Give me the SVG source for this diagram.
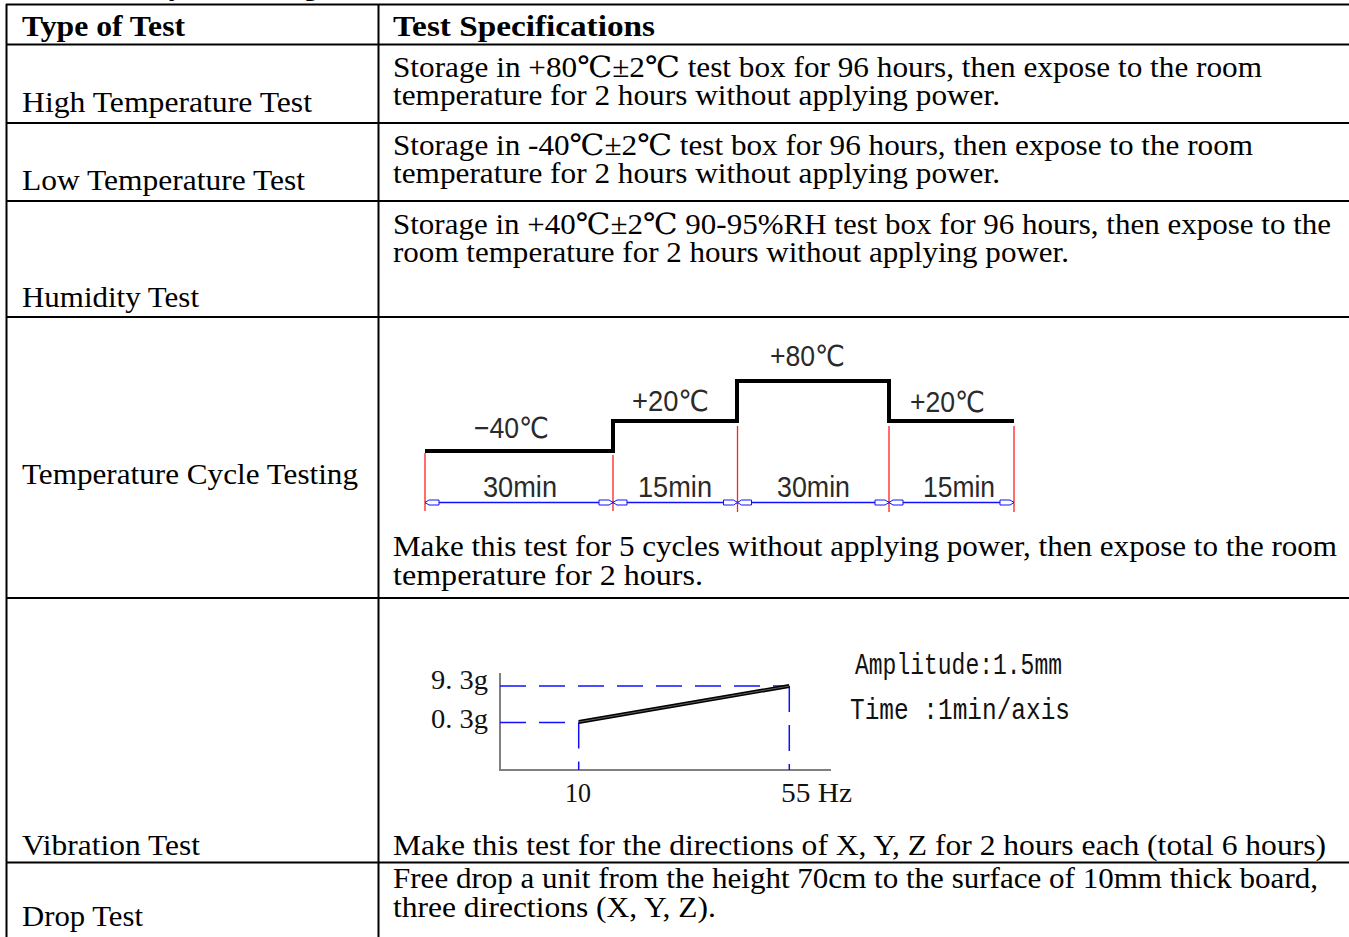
<svg xmlns="http://www.w3.org/2000/svg" width="1349" height="937" viewBox="0 0 1349 937">
<style>
.t{font-family:"Liberation Serif","DejaVu Serif","Noto Sans CJK SC",serif;font-size:29px;fill:#000}
.b{font-weight:bold}
.grid{stroke:#000;stroke-width:2;fill:none}
.lbl{font-family:"Liberation Sans","DejaVu Sans","Noto Sans CJK SC",sans-serif;font-size:29px;fill:#2a2a2a}
.sim{font-family:"Liberation Serif","Noto Sans CJK SC",serif;font-size:28px;fill:#111}
.mono{font-family:"Liberation Mono",monospace;font-size:30px;fill:#111}
.red{stroke:#ff2020;stroke-width:1.3}
.dim{stroke:#1010ff;stroke-width:1.5;marker-start:url(#da);marker-end:url(#da)}
.dash{stroke:#1010ff;stroke-width:1.5;stroke-dasharray:26 13;fill:none}
.axis{stroke:#808080;stroke-width:2;fill:none}
</style>
<defs>
<marker id="da" markerUnits="userSpaceOnUse" markerWidth="18" markerHeight="8" viewBox="-16 -4 18 8" refX="0" refY="0" orient="auto-start-reverse" overflow="visible">
<path d="M0,0 L-4,-2.5 L-14,-2.5 L-14,2.5 L-4,2.5 Z" fill="#fff" stroke="#1010ff" stroke-width="1"/>
</marker>
</defs>
<rect width="1349" height="937" fill="#fff"/>
<text class="t b" x="6" y="-5" font-size="39" textLength="312">Reliability Testing</text>
<g id="connectors">
<g id="table-grid" class="grid">
<line x1="6" y1="4.5" x2="1349" y2="4.5"/>
<line x1="6.5" y1="4" x2="6.5" y2="937"/>
<line x1="378.5" y1="4" x2="378.5" y2="937"/>
<line x1="6" y1="44.5" x2="1349" y2="44.5"/>
<line x1="6" y1="123" x2="1349" y2="123"/>
<line x1="6" y1="201" x2="1349" y2="201"/>
<line x1="6" y1="317" x2="1349" y2="317"/>
<line x1="6" y1="598" x2="1349" y2="598"/>
<line x1="6" y1="862.5" x2="1349" y2="862.5"/>
</g>
</g>
<g id="header">
<text class="t b" x="22" y="36" textLength="163" lengthAdjust="spacingAndGlyphs">Type of Test</text>
<text class="t b" x="393" y="36" textLength="262" lengthAdjust="spacingAndGlyphs">Test Specifications</text>
</g>
<g id="row-high-temp">
<text class="t" x="22" y="112" textLength="290" lengthAdjust="spacingAndGlyphs">High Temperature Test</text>
<text class="t"><tspan x="393" y="76.5" textLength="869" lengthAdjust="spacingAndGlyphs">Storage in +80℃±2℃ test box for 96 hours, then expose to the room</tspan><tspan x="393" y="104.5" textLength="607" lengthAdjust="spacingAndGlyphs">temperature for 2 hours without applying power.</tspan></text>
</g>
<g id="row-low-temp">
<text class="t" x="22" y="190" textLength="283" lengthAdjust="spacingAndGlyphs">Low Temperature Test</text>
<text class="t"><tspan x="393" y="154.5" textLength="860" lengthAdjust="spacingAndGlyphs">Storage in -40℃±2℃ test box for 96 hours, then expose to the room</tspan><tspan x="393" y="182.5" textLength="607" lengthAdjust="spacingAndGlyphs">temperature for 2 hours without applying power.</tspan></text>
</g>
<g id="row-humidity">
<text class="t" x="22" y="307" textLength="177" lengthAdjust="spacingAndGlyphs">Humidity Test</text>
<text class="t"><tspan x="393" y="234" textLength="938" lengthAdjust="spacingAndGlyphs">Storage in +40℃±2℃ 90-95%RH test box for 96 hours, then expose to the</tspan><tspan x="393" y="262" textLength="676" lengthAdjust="spacingAndGlyphs">room temperature for 2 hours without applying power.</tspan></text>
</g>
<g id="row-temp-cycle">
<text class="t" x="22" y="484" textLength="336" lengthAdjust="spacingAndGlyphs">Temperature Cycle Testing</text>
<g id="cycle-chart">
<polyline points="425,451 613,451 613,421 737,421 737,381 889,381 889,421 1014,421" fill="none" stroke="#000" stroke-width="4"/>
<line class="red" x1="425" y1="453" x2="425" y2="511"/>
<line class="red" x1="613" y1="455" x2="613" y2="511"/>
<line class="red" x1="737.5" y1="426" x2="737.5" y2="512"/>
<line class="red" x1="889" y1="426" x2="889" y2="512"/>
<line class="red" x1="1014" y1="426" x2="1014" y2="512"/>
<line class="dim" x1="425" y1="502.5" x2="613" y2="502.5"/>
<line class="dim" x1="613" y1="502.5" x2="737.5" y2="502.5"/>
<line class="dim" x1="737.5" y1="502.5" x2="889" y2="502.5"/>
<line class="dim" x1="889" y1="502.5" x2="1014" y2="502.5"/>
<text class="lbl" x="474" y="438" textLength="75" lengthAdjust="spacingAndGlyphs">−40℃</text>
<text class="lbl" x="632" y="411" textLength="77" lengthAdjust="spacingAndGlyphs">+20℃</text>
<text class="lbl" x="770" y="366" textLength="75" lengthAdjust="spacingAndGlyphs">+80℃</text>
<text class="lbl" x="910" y="412" textLength="75" lengthAdjust="spacingAndGlyphs">+20℃</text>
<text class="lbl" x="483" y="497" textLength="74" lengthAdjust="spacingAndGlyphs">30min</text>
<text class="lbl" x="638" y="497" textLength="74" lengthAdjust="spacingAndGlyphs">15min</text>
<text class="lbl" x="777" y="497" textLength="73" lengthAdjust="spacingAndGlyphs">30min</text>
<text class="lbl" x="923" y="497" textLength="72" lengthAdjust="spacingAndGlyphs">15min</text>
</g>
<text class="t"><tspan x="393" y="556" textLength="944" lengthAdjust="spacingAndGlyphs">Make this test for 5 cycles without applying power, then expose to the room</tspan><tspan x="393" y="585" textLength="310" lengthAdjust="spacingAndGlyphs">temperature for 2 hours.</tspan></text>
</g>
<g id="row-vibration">
<text class="t" x="22" y="855" textLength="178" lengthAdjust="spacingAndGlyphs">Vibration Test</text>
<g id="vibration-chart">
<polyline class="axis" points="500,673 500,770 831,770"/>
<line class="dash" x1="500" y1="686" x2="789" y2="686"/>
<line class="dash" x1="500" y1="722.5" x2="578.7" y2="722.5"/>
<line class="dash" x1="578.7" y1="722.5" x2="578.7" y2="770"/>
<line class="dash" x1="789.3" y1="686" x2="789.3" y2="770"/>
<line x1="578.7" y1="722" x2="789.3" y2="686" stroke="#000" stroke-width="4"/>
<line x1="578.7" y1="722" x2="789.3" y2="686" stroke="#777" stroke-width="0.8"/>
<text class="sim" x="431" y="689" textLength="57" lengthAdjust="spacingAndGlyphs">9. 3g</text>
<text class="sim" x="431" y="728" textLength="57" lengthAdjust="spacingAndGlyphs">0. 3g</text>
<text class="sim" x="565" y="802" textLength="26" lengthAdjust="spacingAndGlyphs">10</text>
<text class="sim" x="781" y="802" textLength="71" lengthAdjust="spacingAndGlyphs">55 Hz</text>
<text class="mono" x="855" y="674" textLength="207" lengthAdjust="spacingAndGlyphs">Amplitude:1.5mm</text>
<text class="mono" x="850" y="719" textLength="220" lengthAdjust="spacingAndGlyphs">Time :1min/axis</text>
</g>
<text class="t" x="393" y="855" textLength="933" lengthAdjust="spacingAndGlyphs">Make this test for the directions of X, Y, Z for 2 hours each (total 6 hours)</text>
</g>
<g id="row-drop">
<text class="t" x="22" y="926" textLength="121" lengthAdjust="spacingAndGlyphs">Drop Test</text>
<text class="t"><tspan x="393" y="888" textLength="925" lengthAdjust="spacingAndGlyphs">Free drop a unit from the height 70cm to the surface of 10mm thick board,</tspan><tspan x="393" y="917" textLength="323" lengthAdjust="spacingAndGlyphs">three directions (X, Y, Z).</tspan></text>
</g>
</svg>
